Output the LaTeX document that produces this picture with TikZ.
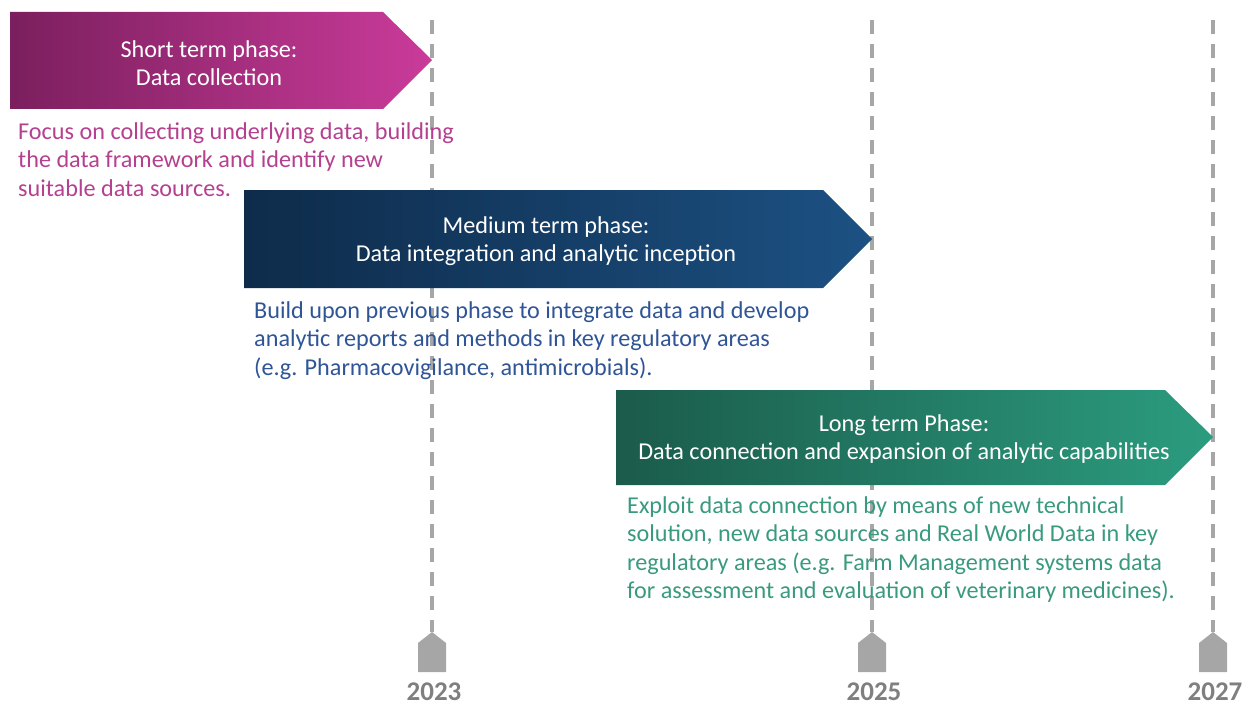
\documentclass[tikz,border=0pt]{standalone}
\usepackage{fontspec}
\setmainfont{Carlito}
\definecolor{plumdark}{HTML}{7B1F5E}
\definecolor{plumlight}{HTML}{CA3B9A}
\definecolor{plumtext}{HTML}{B5408F}
\definecolor{navydark}{HTML}{0E2B4A}
\definecolor{navylight}{HTML}{1C5183}
\definecolor{navytext}{HTML}{2F5597}
\definecolor{tealdark}{HTML}{1B5B4B}
\definecolor{teallight}{HTML}{2B9C7F}
\definecolor{tealtext}{HTML}{3A9A7E}
\definecolor{yearline}{HTML}{A6A6A6}
\definecolor{yeartext}{HTML}{7F7F7F}
\begin{document}
\begin{tikzpicture}[x=1pt,y=-1pt,line join=round,
    phasetitle/.style={text=white,align=center,font=\fontsize{24.2}{28.5}\selectfont},
    phasenote/.style={anchor=north west,align=left,inner sep=0pt,font=\fontsize{24.2}{28.5}\selectfont},
    yearlabel/.style={text=yeartext,inner sep=0pt,font=\fontsize{27}{30}\selectfont\bfseries}]
\useasboundingbox (0,0) rectangle (1252,706);
% year markers with dashed guide lines
\foreach \yx/\yr in {432/2023,872/2025,1213/2027}{
  \coordinate (top\yr) at (\yx,20);
  \coordinate (bot\yr) at (\yx,632);
  \draw[yearline,line width=4pt,dash pattern=on 14pt off 10pt] (top\yr) -- (bot\yr);
  \fill[yearline] (\yx-14,672) -- (\yx-14,643) -- (bot\yr) -- (\yx+14,643) -- (\yx+14,672) -- cycle;
  \node[yearlabel,anchor=base] (lab\yr) at (\yx+2,700) {\yr};
}
% phase arrows
\shade[left color=plumdark,right color=plumlight] (10,12) -- (383,12) -- (432,60) -- (383,109) -- (10,109) -- cycle;
\shade[left color=navydark,right color=navylight] (244,190) -- (823,190) -- (872,239) -- (823,288) -- (244,288) -- cycle;
\shade[left color=tealdark,right color=teallight] (616,390) -- (1165,390) -- (1213,437) -- (1165,485) -- (616,485) -- cycle;
\node[phasetitle] (short) at (209,63) {Short term phase:\\Data collection};
\node[phasetitle] (medium) at (546,241) {Medium term phase:\\Data integration and analytic inception};
\node[phasetitle] (long) at (904,439) {Long term Phase:\\Data connection and expansion of analytic capabilities};
% descriptions under each arrow
\node[phasenote,text=plumtext] (shortnote) at (18,122) {Focus on collecting underlying data, building\\the data framework and identify new\\suitable data sources.};
\node[phasenote,text=navytext] (mediumnote) at (254,301) {Build upon previous phase to integrate data and develop\\analytic reports and methods in key regulatory areas\\(e.g. Pharmacovigilance, antimicrobials).};
\node[phasenote,text=tealtext] (longnote) at (627,496) {Exploit data connection by means of new technical\\solution, new data sources and Real World Data in key\\regulatory areas (e.g. Farm Management systems data\\for assessment and evaluation of veterinary medicines).};
\end{tikzpicture}
\end{document}
